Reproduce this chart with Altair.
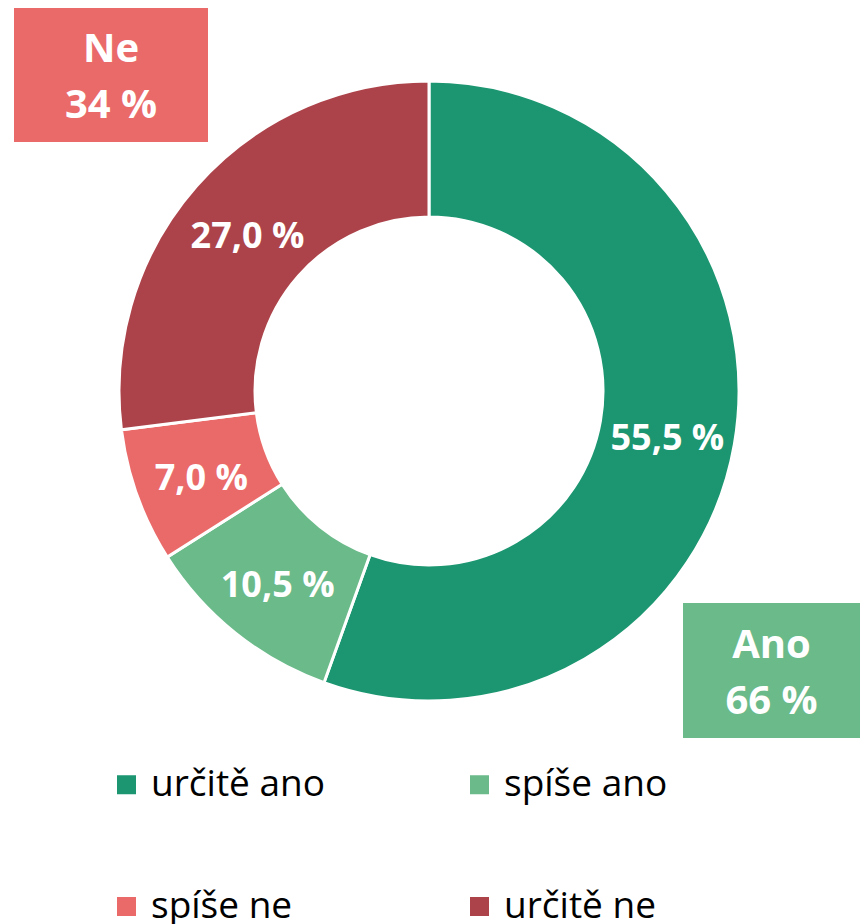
import altair as alt
import pandas as pd

categories = ["určitě ano", "spíše ano", "spíše ne", "určitě ne"]
values = [55.5, 10.5, 7.0, 27.0]
colors = ["#1B9670", "#6ABA8A", "#EA6A6A", "#AD434A"]
group_names = ["Ano", "Ne"]
group_values = [66, 34]
group_colors = ["#6ABA8A", "#EA6A6A"]

df = pd.DataFrame({
    "cat": categories,
    "value": values,
    "idx": list(range(len(categories))),
    "label": [f"{v:.1f}".replace(".", ",") + " %" for v in values],
})

CX, CY = 429, 391
LABEL_FONT = "Open Sans"
LEGEND_FONT = "Open Sans"

base = alt.Chart(df).encode(
    theta=alt.Theta("value:Q", stack=True),
    order=alt.Order("idx:Q"),
)

arcs = base.mark_arc(outerRadius=310, innerRadius=174, stroke="white", strokeWidth=3).encode(
    x=alt.value(CX), y=alt.value(CY),
    color=alt.Color(
        "cat:N",
        scale=alt.Scale(domain=categories, range=colors),
        sort=categories,
        legend=alt.Legend(
            title=None, orient="none", legendX=108, legendY=766, columns=2,
            direction="horizontal",
            symbolType="square", symbolSize=361, symbolStrokeWidth=0,
            labelFontSize=37, labelFont=LEGEND_FONT, labelColor="#000000",
            labelOffset=6, labelLimit=500, rowPadding=84, columnPadding=136,
        ),
    ),
)

texts = base.mark_text(radius=242, font=LABEL_FONT, fontSize=36, fontWeight="bold",
                       color="white", dy=6).encode(
    x=alt.value(CX), y=alt.value(CY), text="label:N",
)

def box(name, val, col, x0, x1, y0, y1):
    d = pd.DataFrame({"t": [f"{name}\n{val} %"]})
    rect = alt.Chart(d).mark_rect(color=col).encode(
        x=alt.value(x0), x2=alt.value(x1), y=alt.value(y0), y2=alt.value(y1)
    )
    txt = alt.Chart(d).mark_text(
        font=LABEL_FONT, fontSize=40, fontWeight="bold", color="white",
        lineBreak="\n", lineHeight=56, baseline="middle", align="center",
    ).encode(
        x=alt.value((x0 + x1) / 2), y=alt.value((y0 + y1) / 2 - 25), text="t:N"
    )
    return rect + txt

box_ne = box(group_names[1], group_values[1], group_colors[1], 14, 208, 8, 142)
box_ano = box(group_names[0], group_values[0], group_colors[0], 683, 860, 603, 738)

chart = alt.layer(arcs, texts, box_ne, box_ano).properties(
    width=860, height=924, padding=0, autosize=alt.AutoSizeParams(type="none"),
    background="white",
).configure_view(stroke=None)

chart.save("out.html", embed_options={"renderer": "svg", "actions": False})
